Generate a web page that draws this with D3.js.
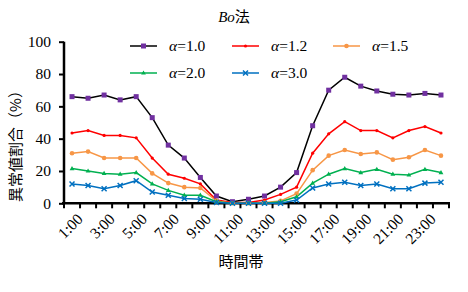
<!DOCTYPE html>
<html>
<head>
<meta charset="utf-8">
<script src="https://cdn.jsdelivr.net/npm/d3@7"></script>
<style>
  body { margin: 0; background: #fff; }
  svg { display: block; }
  .serif { font-family: "Liberation Serif", "Times New Roman", serif; }
  .cjk { font-family: "Noto Sans CJK JP", sans-serif; }
</style>
</head>
<body>
<svg width="468" height="292"></svg>
<script>
// データ
const hours = ["1:00","2:00","3:00","4:00","5:00","6:00","7:00","8:00","9:00","10:00","11:00","12:00",
  "13:00","14:00","15:00","16:00","17:00","18:00","19:00","20:00","21:00","22:00","23:00","24:00"];
const a10 = [66,65,67,64,66,53,36,28,16,4.5,1,2.5,4.5,10,19,48,70,78,72.5,69.5,67.5,67,68,67];
const a12 = [43.5,45,42,42,40.5,28,18,15.5,12,2,0.5,0.5,2,5.5,10,31,43,50.5,45,45,40.5,45,47.5,43.5];
const a15 = [31,32,28,28,28,18.5,12.5,10,9.5,1.5,0,0,0.5,1.5,6,20.5,29.5,33,30.5,31.5,27,28.5,33,29.5];
const a20 = [21.5,20,18.5,18,19,12,8,5,5,1,0,0,0,1,4,12.5,18,21.5,19,21,18,17.5,21,19];
const a30 = [12,11,9,11,14,7,5,3,2.5,0.5,0,0,0,0,2,9.5,12,13,11,12,9,9,12.5,13];
const yTicks = [0,20,40,60,80,100];

const series = [
  { label: "1.0", values: a10, line: "#000000", mark: "#7030A0", shape: "square" },
  { label: "1.2", values: a12, line: "#FF0000", mark: "#FF0000", shape: "dot" },
  { label: "1.5", values: a15, line: "#F79646", mark: "#F79646", shape: "circle" },
  { label: "2.0", values: a20, line: "#00B050", mark: "#00B050", shape: "triangle" },
  { label: "3.0", values: a30, line: "#0070C0", mark: "#0070C0", shape: "cross" }
];

const svg = d3.select("svg");
const mLeft = 64, mRight = 449, mTop = 41.7, mBottom = 203.3;

const x = d3.scaleBand().domain(hours).range([mLeft, mRight]);
const y = d3.scaleLinear().domain([0, 100]).range([mBottom, mTop]);

// 軸
const yAxis = d3.axisLeft(y).tickValues(yTicks).tickSize(5).tickPadding(8);
const gy = svg.append("g").attr("transform", `translate(${mLeft},0)`).call(yAxis);
gy.attr("font-family", null).attr("font-size", null);
gy.select(".domain").attr("stroke-width", 2.5).attr("d", `M0,${mTop}V${mBottom}`);
gy.selectAll(".tick line").attr("stroke-width", 2);
gy.selectAll(".tick text").attr("class", "serif").style("font-size", "15.5px").attr("fill", "#000");

const gx = svg.append("g").attr("transform", `translate(0,${mBottom})`);
gx.append("line").attr("x1", mLeft - 2).attr("x2", mRight + 1).attr("y1", 0).attr("y2", 0)
  .attr("stroke", "#000").attr("stroke-width", 2.5);
gx.selectAll(".xt").data(hours.concat(["end"])).enter().append("line")
  .attr("x1", (d, i) => mLeft + i * x.step()).attr("x2", (d, i) => mLeft + i * x.step())
  .attr("y1", 0).attr("y2", 5).attr("stroke", "#000").attr("stroke-width", 2);
gx.selectAll(".xl").data(hours.filter((d, i) => i % 2 === 0)).enter().append("text")
  .attr("class", "serif")
  .attr("transform", d => `translate(${x(d) + x.bandwidth() / 2 + 4},${9}) rotate(-45)`)
  .attr("text-anchor", "end")
  .attr("dy", "0.7em")
  .style("font-size", "15.5px")
  .text(d => d);

// 線
const line = d3.line().x((d, i) => x(hours[i]) + x.bandwidth() / 2).y(d => y(d));
const plot = svg.append("g");
series.forEach(s => {
  plot.append("path").datum(s.values).attr("d", line)
    .attr("fill", "none").attr("stroke", s.line).attr("stroke-width", 1.5);
});

function marker(g, s, cx, cy) {
  if (s.shape === "square") {
    g.append("rect").attr("x", cx - 2.5).attr("y", cy - 2.5).attr("width", 5).attr("height", 5).attr("fill", s.mark);
  } else if (s.shape === "dot") {
    g.append("circle").attr("cx", cx).attr("cy", cy).attr("r", 1.6).attr("fill", s.mark);
  } else if (s.shape === "circle") {
    g.append("circle").attr("cx", cx).attr("cy", cy).attr("r", 2.3).attr("fill", s.mark);
  } else if (s.shape === "triangle") {
    g.append("path").attr("d", `M${cx},${cy - 2.6}L${cx + 2.4},${cy + 1.6}L${cx - 2.4},${cy + 1.6}Z`).attr("fill", s.mark);
  } else {
    g.append("path").attr("d", `M${cx - 2.5},${cy - 2.5}L${cx + 2.5},${cy + 2.5}M${cx - 2.5},${cy + 2.5}L${cx + 2.5},${cy - 2.5}`)
      .attr("stroke", s.mark).attr("stroke-width", 1.5);
  }
}

series.forEach(s => {
  const g = plot.append("g");
  s.values.forEach((v, i) => marker(g, s, x(hours[i]) + x.bandwidth() / 2, y(v)));
});

// 凡例
const legendPos = [[130, 46], [232, 46], [333, 46], [130, 73], [232, 73]];
series.forEach((s, i) => {
  const [lx, ly] = legendPos[i];
  const g = svg.append("g");
  g.append("line").attr("x1", lx).attr("x2", lx + 27).attr("y1", ly).attr("y2", ly)
    .attr("stroke", s.line).attr("stroke-width", 1.5);
  marker(g, s, lx + 13.5, ly);
  const t = g.append("text").attr("class", "serif").attr("x", lx + 39).attr("y", ly + 5)
    .style("font-size", "15.5px");
  t.append("tspan").style("font-style", "italic").text("α");
  t.append("tspan").text("=" + s.label);
});

// タイトル
const title = svg.append("text").attr("x", 234).attr("y", 22).attr("text-anchor", "middle")
  .style("font-size", "15px");
title.append("tspan").attr("class", "serif").style("font-style", "italic").text("Bo");
title.append("tspan").attr("class", "cjk").text("法");

// 軸ラベル
svg.append("text").attr("class", "cjk")
  .attr("transform", `translate(21,${(mTop + mBottom) / 2 + 20}) rotate(-90)`)
  .attr("text-anchor", "middle")
  .style("font-size", "15px")
  .text("異常値割合（%）");

svg.append("text").attr("class", "cjk").attr("x", 241).attr("y", 267).attr("text-anchor", "middle")
  .style("font-size", "15px")
  .text("時間帯");
</script>
</body>
</html>
